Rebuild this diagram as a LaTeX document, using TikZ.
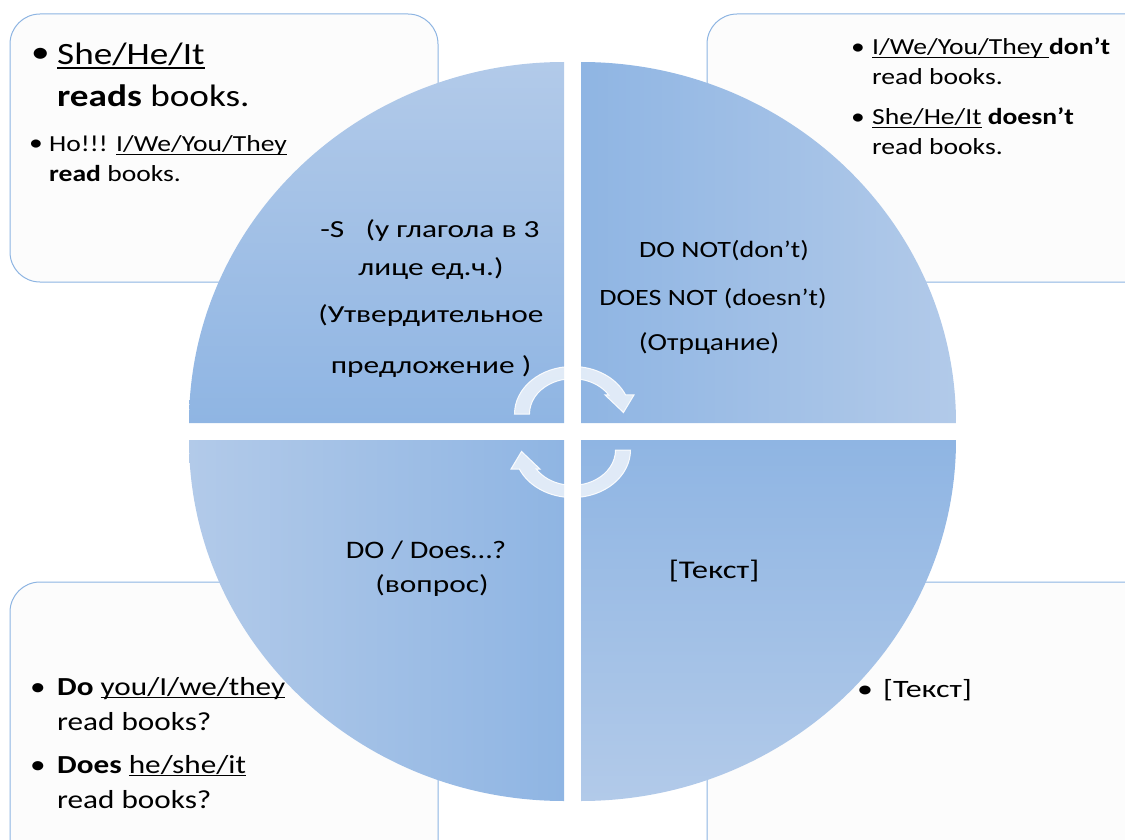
\documentclass[tikz,border=0pt]{standalone}
\usepackage{fontspec}
\setmainfont{Carlito}[FakeStretch=1.2]
\newfontfamily\cyrfont{Carlito}[FakeStretch=1.28]
\newsavebox{\ulnbox}
\newcommand{\uln}[1]{\sbox{\ulnbox}{#1}\rlap{\rule[-0.13em]{\wd\ulnbox}{0.055em}}\usebox{\ulnbox}}
\definecolor{qlight}{RGB}{178,202,233}
\definecolor{qdark}{RGB}{143,181,227}
\definecolor{boxline}{RGB}{141,180,226}
\definecolor{boxfill}{RGB}{252,252,252}
\tikzset{
  infobox/.style={draw=boxline,fill=boxfill,line width=1pt,rounded corners=30pt},
  qtext/.style={anchor=base,inner sep=0pt,font=\fontsize{24.5}{29}\selectfont},
  qcyr/.style={qtext,font=\fontsize{24.5}{29}\selectfont\cyrfont},
  btext/.style={anchor=base west,inner sep=0pt},
  bigfont/.style={font=\fontsize{31}{37}\selectfont},
  smallfont/.style={font=\fontsize{23}{28}\selectfont},
  blfont/.style={font=\fontsize{26}{31}\selectfont},
  brfont/.style={font=\fontsize{25}{29}\selectfont\cyrfont},
  arrowshape/.style={fill=white,fill opacity=0.72,draw=white,draw opacity=0.9,line width=1pt},
  circarrow/.pic={
    \begin{scope}[yscale=0.82]
      \path[arrowshape] (180:58) arc[start angle=180,end angle=23.6,radius=58]
        -- (61.5,23.2) -- (2:51) -- (32.5,23.2) -- (32.6:43)
        arc[start angle=32.6,end angle=180,radius=43] -- cycle;
    \end{scope}
  }
}
\begin{document}
\begin{tikzpicture}[x=1pt,y=1pt]
\path[use as bounding box] (0,0) rectangle (1125,-840);
\clip (0,0) rectangle (1125,-840);

% outer boxes
\path[infobox] (10,-14) rectangle (438,-282);
\path[infobox] (707,-14) rectangle (1160,-282);
\path[infobox] (10,-582) rectangle (438,-880);
\path[infobox] (707,-582) rectangle (1160,-880);

% quadrants
\shade[top color=qlight,bottom color=qdark] (564,-423) -- ++(-375,0)
  arc[start angle=180,end angle=90,x radius=375,y radius=361] -- cycle;
\shade[left color=qdark,right color=qlight] (581,-423) -- ++(0,361)
  arc[start angle=90,end angle=0,x radius=375,y radius=361] -- cycle;
\shade[top color=qdark,bottom color=qlight] (581,-440) -- ++(375,0)
  arc[start angle=0,end angle=-90,x radius=375,y radius=361] -- cycle;
\shade[left color=qlight,right color=qdark] (564,-440) -- ++(0,-361)
  arc[start angle=270,end angle=180,x radius=375,y radius=361] -- cycle;

% quadrant texts
\node[qcyr] (tl1) at (430,-237) {-S\ \ \ (у глагола в 3};
\node[qcyr] (tl2) at (431,-275) {лице ед.ч.)};
\node[qcyr] (tl3) at (431,-322) {(Утвердительное};
\node[qcyr] (tl4) at (431,-373) {предложение )};

\node[qtext,font=\fontsize{23.4}{28}\selectfont] (tr1) at (724,-257) {DO NOT(don’t)};
\node[qtext,font=\fontsize{23.4}{28}\selectfont] (tr2) at (713,-305) {DOES NOT (doesn’t)};
\node[qtext] (tr3) at (709,-350) {(Отрцание)};

\node[qtext,font=\fontsize{25.2}{30}\selectfont] (bl1) at (426,-558) {DO / Does…?};
\node[qcyr] (bl2) at (432,-592) {(вопрос)};

\node[qcyr,font=\fontsize{25.5}{30}\selectfont\cyrfont] (br1) at (714,-578) {[Текст]};

% box texts: top left
\node[btext,bigfont] (tlb1) at (31,-63) {•};
\node[btext,bigfont] (tla1) at (57,-65) {\uln{She/He/It}};
\node[btext,bigfont] (tla2) at (57,-107) {\textbf{reads} books.};
\node[btext,smallfont] (tlb2) at (29,-151) {•};
\node[btext,smallfont] (tla3) at (49,-152) {Но!!! \uln{I/We/You/They}};
\node[btext,smallfont] (tla4) at (49,-182) {\textbf{read} books.};

% top right
\node[btext,smallfont] (trb1) at (851,-55) {•};
\node[btext,smallfont] (tra1) at (872,-55) {\uln{I/We/You/They }\textbf{don’t}};
\node[btext,smallfont] (tra2) at (872,-85) {read books.};
\node[btext,smallfont] (trb2) at (851,-125) {•};
\node[btext,smallfont] (tra3) at (872,-125) {\uln{She/He/It} \textbf{doesn't}};
\node[btext,smallfont] (tra4) at (872,-155) {read books.};

% bottom left
\node[btext,blfont] (blb1) at (30,-695) {•};
\node[btext,blfont] (bla1) at (57,-695) {\textbf{Do} \uln{you/I/we/they}};
\node[btext,blfont] (bla2) at (57,-730) {read books?};
\node[btext,blfont] (blb2) at (30,-773) {•};
\node[btext,blfont] (bla3) at (57,-773) {\textbf{Does} \uln{he/she/it}};
\node[btext,blfont] (bla4) at (57,-808) {read books?};

% bottom right
\node[btext,brfont] (brb1) at (857,-697) {•};
\node[btext,brfont] (bra1) at (883,-697) {[Текст]};

% circular arrows
\pic at (572.5,-414) {circarrow};
\pic[rotate=180] at (572.5,-450) {circarrow};
\end{tikzpicture}
\end{document}
